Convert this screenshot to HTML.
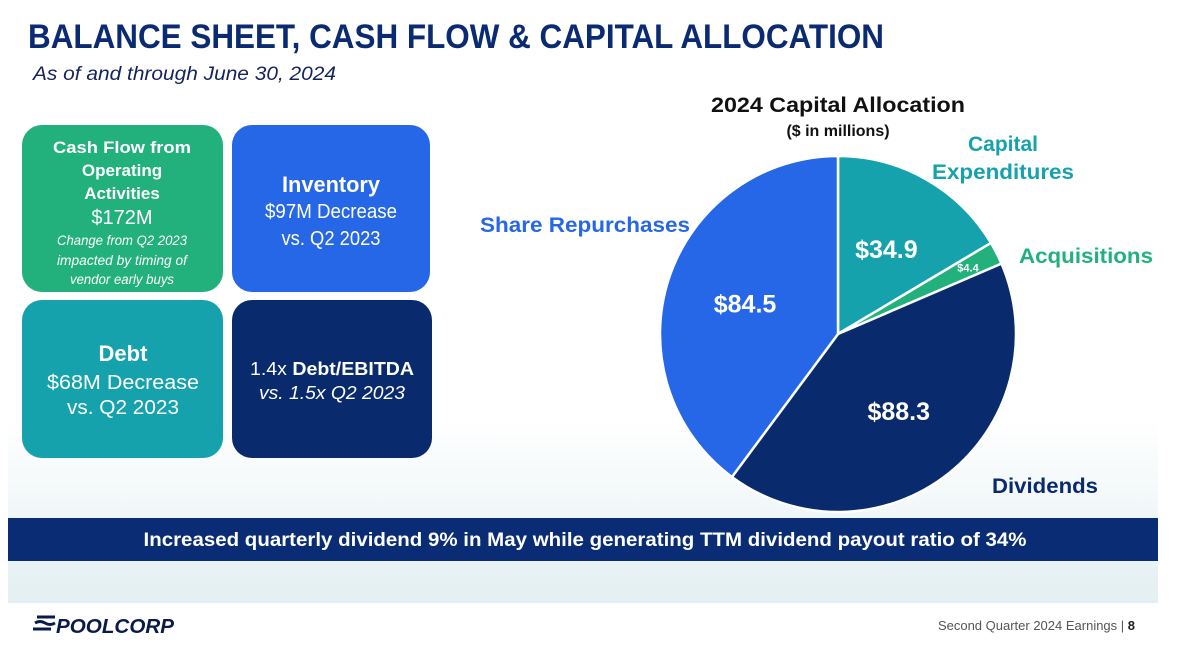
<!DOCTYPE html>
<html><head><meta charset="utf-8"><style>
html,body{margin:0;padding:0;background:#fff;}
svg{display:block;font-family:"Liberation Sans",sans-serif;}
</style></head><body>
<svg width="1200" height="668" viewBox="0 0 1200 668">
<defs>
<linearGradient id="bg" x1="0" y1="0" x2="0" y2="1">
<stop offset="0" stop-color="#ffffff"/><stop offset="1" stop-color="#e3eff2"/>
</linearGradient>
</defs>
<rect x="8" y="420" width="1150" height="183" fill="url(#bg)"/>
<text x="28" y="48" font-size="34" font-weight="bold" fill="#0a2a72" textLength="856" lengthAdjust="spacingAndGlyphs">BALANCE SHEET, CASH FLOW &amp; CAPITAL ALLOCATION</text>
<text x="33" y="80" font-size="19" font-style="italic" fill="#14235e" textLength="303" lengthAdjust="spacingAndGlyphs">As of and through June 30, 2024</text>

<g fill="#fff" text-anchor="middle">
<rect x="22" y="125" width="201" height="167" rx="20" fill="#22b07d"/>
<text x="122" y="153" font-size="17" font-weight="bold" textLength="138" lengthAdjust="spacingAndGlyphs">Cash Flow from</text>
<text x="122" y="176" font-size="17" font-weight="bold">Operating</text>
<text x="122" y="199" font-size="17" font-weight="bold">Activities</text>
<text x="122" y="224" font-size="20">$172M</text>
<text x="122" y="245" font-size="14" font-style="italic" textLength="130" lengthAdjust="spacingAndGlyphs">Change from Q2 2023</text>
<text x="122" y="265" font-size="14" font-style="italic" textLength="130" lengthAdjust="spacingAndGlyphs">impacted by timing of</text>
<text x="122" y="284" font-size="14" font-style="italic" textLength="104" lengthAdjust="spacingAndGlyphs">vendor early buys</text>
</g>
<g fill="#fff" text-anchor="middle">
<rect x="232" y="125" width="198" height="167" rx="20" fill="#2567e6"/>
<text x="331" y="192" font-size="22" font-weight="bold" textLength="98" lengthAdjust="spacingAndGlyphs">Inventory</text>
<text x="331" y="218" font-size="20" textLength="132" lengthAdjust="spacingAndGlyphs">$97M Decrease</text>
<text x="331" y="245" font-size="20" textLength="99" lengthAdjust="spacingAndGlyphs">vs. Q2 2023</text>
</g>
<g fill="#fff" text-anchor="middle">
<rect x="22" y="300" width="201" height="158" rx="20" fill="#16a2ad"/>
<text x="123" y="361" font-size="22" font-weight="bold">Debt</text>
<text x="123" y="389" font-size="20" textLength="152" lengthAdjust="spacingAndGlyphs">$68M Decrease</text>
<text x="123" y="414" font-size="20" textLength="112" lengthAdjust="spacingAndGlyphs">vs. Q2 2023</text>
</g>
<g fill="#fff" text-anchor="middle">
<rect x="232" y="300" width="200" height="158" rx="20" fill="#0a2a6e"/>
<text x="332" y="375" font-size="18" textLength="164" lengthAdjust="spacingAndGlyphs">1.4x <tspan font-weight="bold">Debt/EBITDA</tspan></text>
<text x="332" y="399" font-size="18" font-style="italic" textLength="146" lengthAdjust="spacingAndGlyphs">vs. 1.5x Q2 2023</text>
</g>

<text x="838" y="112" font-size="21" font-weight="bold" fill="#111" text-anchor="middle" textLength="254" lengthAdjust="spacingAndGlyphs">2024 Capital Allocation</text>
<text x="838" y="136" font-size="16" font-weight="bold" fill="#111" text-anchor="middle">($ in millions)</text>
<g id="pie"></g>
<g font-size="21" font-weight="bold">
<text x="480" y="232" fill="#2567e6" textLength="210" lengthAdjust="spacingAndGlyphs">Share Repurchases</text>
<text x="1003" y="151" fill="#16a2ad" text-anchor="middle">Capital</text>
<text x="1003" y="179" fill="#16a2ad" text-anchor="middle" textLength="142" lengthAdjust="spacingAndGlyphs">Expenditures</text>
<text x="1019" y="263" fill="#22b07d" textLength="134" lengthAdjust="spacingAndGlyphs">Acquisitions</text>
<text x="992" y="493" fill="#0a2a6e" textLength="106" lengthAdjust="spacingAndGlyphs">Dividends</text>
</g>

<rect x="8" y="518" width="1150" height="43" fill="#0a2c74"/>
<text x="585" y="546" font-size="19" font-weight="bold" fill="#fff" text-anchor="middle" textLength="883" lengthAdjust="spacingAndGlyphs">Increased quarterly dividend 9% in May while generating TTM dividend payout ratio of 34%</text>

<g>
<path d="M37 617 h18 M35 623 q5 -3 10 0 t10 0 M33 629 h18" stroke="#0a1a4a" stroke-width="3" fill="none"/>
<text x="56" y="633" font-size="20" font-weight="bold" font-style="italic" fill="#0a1a4a" textLength="118" lengthAdjust="spacingAndGlyphs">POOLCORP</text>
</g>
<text x="1135" y="630" font-size="13" fill="#555" text-anchor="end">Second Quarter 2024 Earnings  |  <tspan font-weight="bold" fill="#222">8</tspan></text>
</svg>
<script>
const categories = ["Capital Expenditures", "Acquisitions", "Dividends", "Share Repurchases"];
const values = [34.9, 4.4, 88.3, 84.5];
const valueLabels = ["$34.9", "$4.4", "$88.3", "$84.5"];
const colors = ["#16a2ad", "#22b07d", "#0a2a6e", "#2567e6"];
(function(){
  const NS = "http://www.w3.org/2000/svg";
  const g = document.getElementById("pie");
  const cx = 838, cy = 334, r = 178;
  const total = values.reduce((a,b)=>a+b,0);
  const pt = (a, rr) => [cx + rr*Math.sin(a), cy - rr*Math.cos(a)];
  let a0 = 0;
  values.forEach((v,i)=>{
    const a1 = a0 + v/total*2*Math.PI;
    const p0 = pt(a0,r), p1 = pt(a1,r);
    const large = (a1-a0) > Math.PI ? 1 : 0;
    const path = document.createElementNS(NS,"path");
    path.setAttribute("d",`M${cx},${cy} L${p0[0]},${p0[1]} A${r},${r} 0 ${large} 1 ${p1[0]},${p1[1]} Z`);
    path.setAttribute("fill",colors[i]);
    path.setAttribute("stroke","#fff");
    path.setAttribute("stroke-width","2.5");
    
    
    g.appendChild(path);
    const mid = (a0+a1)/2;
    const small = v/total < 0.05;
    const lp = pt(mid, small ? r*0.82 : r*0.55);
    const t = document.createElementNS(NS,"text");
    t.setAttribute("x", lp[0]); t.setAttribute("y", lp[1] + (small?4:9));
    t.setAttribute("text-anchor","middle");
    t.setAttribute("fill","#fff");
    t.setAttribute("font-weight","bold");
    t.setAttribute("font-size", small ? "11" : "25");
    t.textContent = valueLabels[i];
    
    
    g.appendChild(t);
    a0 = a1;
  });
})();
</script>
</body></html>
